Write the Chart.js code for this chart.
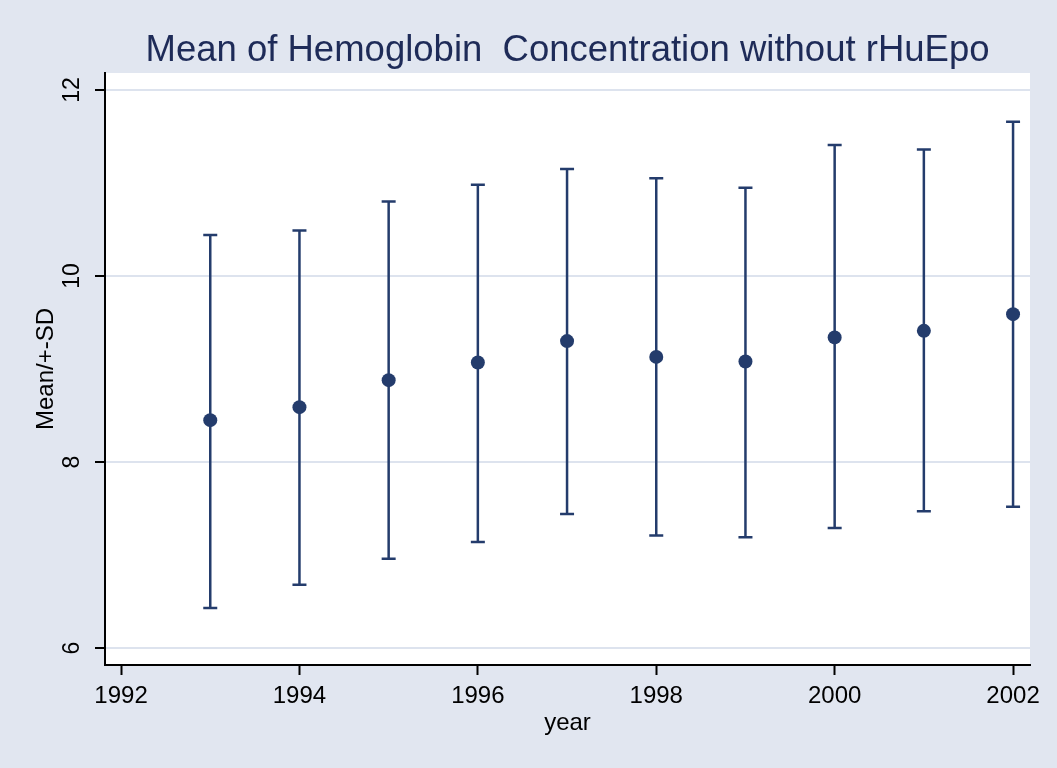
<!DOCTYPE html>
<html>
<head>
<meta charset="utf-8">
<title>Mean of Hemoglobin Concentration without rHuEpo</title>
<script src="https://cdn.jsdelivr.net/npm/chart.js@4/dist/chart.umd.min.js"></script>
<style>
  html, body { margin: 0; padding: 0; background: #ffffff; }
  #wrap { width: 1057px; height: 768px; background: #E1E6F0; }
  canvas { display: block; }
</style>
</head>
<body>
<div id="wrap"><canvas id="hbChart" width="1057" height="768"></canvas></div>
<script>
// values
const years = [1993, 1994, 1995, 1996, 1997, 1998, 1999, 2000, 2001, 2002];
const means = [8.45, 8.59, 8.88, 9.07, 9.30, 9.13, 9.08, 9.34, 9.41, 9.59];
const upper = [10.44, 10.49, 10.80, 10.98, 11.15, 11.05, 10.95, 11.41, 11.36, 11.66];
const lower = [6.43, 6.68, 6.96, 7.14, 7.44, 7.21, 7.19, 7.29, 7.47, 7.52];

const xTicks = [1992, 1994, 1996, 1998, 2000, 2002];
const yTicks = [6, 8, 10, 12];

const titleText = 'Mean of Hemoglobin  Concentration without rHuEpo';
const navy = '#243C6C';
const fontFamily = "Arial, 'Liberation Sans', Helvetica, sans-serif";

// white plot region
const plotBackground = {
    id: 'plotBackground',
    beforeDraw(chart) {
        const { ctx, chartArea } = chart;
        ctx.save();
        ctx.fillStyle = '#ffffff';
        ctx.fillRect(chartArea.left, chartArea.top, chartArea.right - chartArea.left, chartArea.bottom - chartArea.top);
        ctx.restore();
    }
};

// +-SD spikes with caps, drawn under the mean markers
const errorBars = {
    id: 'errorBars',
    beforeDatasetsDraw(chart) {
        const { ctx, scales } = chart;
        const cap = 7;
        ctx.save();
        ctx.strokeStyle = navy;
        ctx.lineWidth = 2.5;
        years.forEach((yr, i) => {
            const x = scales.x.getPixelForValue(yr);
            const yTop = scales.y.getPixelForValue(upper[i]);
            const yBot = scales.y.getPixelForValue(lower[i]);
            ctx.beginPath();
            ctx.moveTo(x, yTop);
            ctx.lineTo(x, yBot);
            ctx.moveTo(x - cap, yTop);
            ctx.lineTo(x + cap, yTop);
            ctx.moveTo(x - cap, yBot);
            ctx.lineTo(x + cap, yBot);
            ctx.stroke();
        });
        ctx.restore();
    }
};

// title centred over the plot region
const plotTitle = {
    id: 'plotTitle',
    afterDraw(chart) {
        const { ctx, chartArea } = chart;
        ctx.save();
        ctx.fillStyle = '#1E2B58';
        ctx.font = '36.5px ' + fontFamily;
        ctx.textAlign = 'center';
        ctx.textBaseline = 'alphabetic';
        ctx.fillText(titleText, (chartArea.left + chartArea.right) / 2, 61);
        ctx.restore();
    }
};

new Chart(document.getElementById('hbChart'), {
    type: 'scatter',
    data: {
        datasets: [{
            label: 'Mean',
            data: years.map((yr, i) => ({ x: yr, y: means[i] })),
            backgroundColor: navy,
            borderColor: navy,
            pointRadius: 7,
            pointHoverRadius: 7,
            borderWidth: 0
        }]
    },
    options: {
        responsive: false,
        animation: false,
        events: [],
        layout: { padding: { left: 0, top: 73, right: 27, bottom: 0 } },
        plugins: {
            legend: { display: false },
            tooltip: { enabled: false },
            title: { display: false }
        },
        scales: {
            x: {
                type: 'linear',
                min: 1991.82,
                max: 2002.19,
                afterBuildTicks: (axis) => { axis.ticks = xTicks.map(v => ({ value: v })); },
                afterFit: (axis) => { axis.height = 103; },
                border: { color: '#000000', width: 2 },
                grid: { drawOnChartArea: false, drawTicks: true, tickLength: 10, tickColor: '#000000', tickWidth: 2 },
                ticks: {
                    color: '#000000',
                    font: { family: fontFamily, size: 24 },
                    padding: 7,
                    maxRotation: 0,
                    autoSkip: false,
                    callback: (v) => String(v)
                },
                title: {
                    display: true,
                    text: 'year',
                    color: '#000000',
                    font: { family: fontFamily, size: 24 },
                    padding: { top: 0, bottom: 30 }
                }
            },
            y: {
                type: 'linear',
                min: 5.817,
                max: 12.183,
                afterBuildTicks: (axis) => { axis.ticks = yTicks.map(v => ({ value: v })); },
                afterFit: (axis) => { axis.width = 105; },
                border: { color: '#000000', width: 2 },
                grid: { color: '#DDE3EE', lineWidth: 2, drawTicks: true, tickLength: 10, tickColor: '#000000', tickWidth: 2 },
                ticks: {
                    color: '#000000',
                    font: { family: fontFamily, size: 23 },
                    padding: 10,
                    minRotation: 90,
                    maxRotation: 90,
                    crossAlign: 'center',
                    autoSkip: false,
                    callback: (v) => String(v)
                },
                title: {
                    display: true,
                    text: 'Mean/+-SD',
                    color: '#000000',
                    font: { family: fontFamily, size: 24 },
                    padding: { top: 32, bottom: 0 }
                }
            }
        }
    },
    plugins: [plotBackground, errorBars, plotTitle]
});
</script>
</body>
</html>
